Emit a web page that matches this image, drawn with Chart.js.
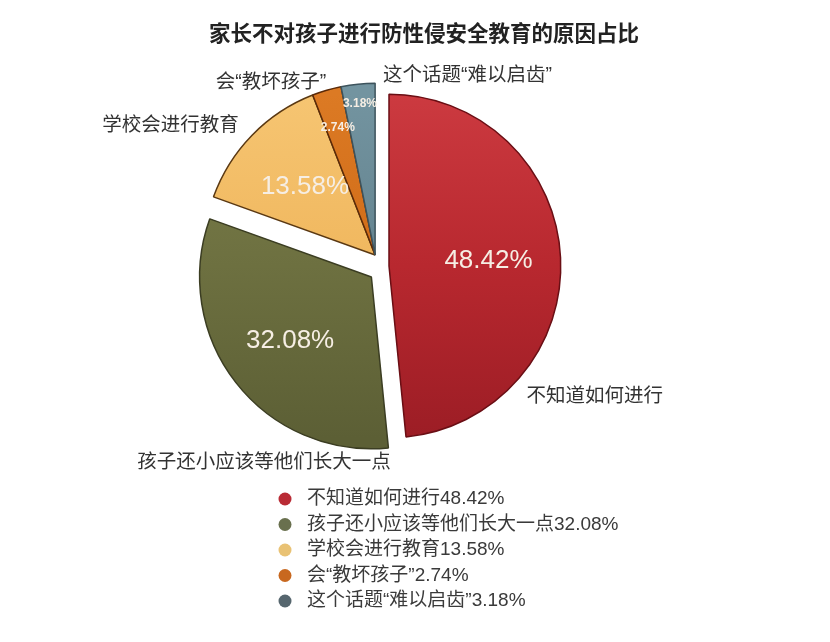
<!DOCTYPE html>
<html>
<head>
<meta charset="utf-8">
<script src="https://cdn.jsdelivr.net/npm/chart.js@4.4.1/dist/chart.umd.min.js"></script>
<style>
  html, body { margin: 0; padding: 0; background: #ffffff; }
  canvas { display: block; }
</style>
</head>
<body>
<canvas id="c" width="830" height="642" style="width:830px;height:642px"></canvas>
<script>
// ---- data ----
const chartTitle = '家长不对孩子进行防性侵安全教育的原因占比';
const categories = ['不知道如何进行', '孩子还小应该等他们长大一点', '学校会进行教育', '会“教坏孩子”', '这个话题“难以启齿”'];
const values = [48.42, 32.08, 13.58, 2.74, 3.18];
const valueLabels = ['48.42%', '32.08%', '13.58%', '2.74%', '3.18%'];

// ---- styles ----
const baseColors  = ['#b8282f', '#6d7040', '#f0b75e', '#d06c18', '#64838f'];
const lightColors = ['#cc3a40', '#7b7e4b', '#f6c572', '#dc7a24', '#7394a0'];
const darkColors  = ['#9c1d25', '#5c5f35', '#e6a84c', '#bb5d12', '#557481'];
const edgeColors  = ['#6a0e14', '#3b3d22', '#5a3812', '#5b2a08', '#3d535c'];
const legendColors = ['#b92b35', '#69704e', '#e9c274', '#c8681f', '#56666e'];
// explode: distance (px) and direction (deg clockwise from top; null = slice middle)
const explodeDist  = [9, 14, 12, 12, 12];
const explodeAngle = [90, 218, 336, 336, 336];
// inside value labels: radius factor, font
const valueRadius = [0.58, 0.60, 0.57, 0.77, 0.885];
const valueFonts  = ['26px "Liberation Sans", Arial, sans-serif', '26px "Liberation Sans", Arial, sans-serif',
                     '26px "Liberation Sans", Arial, sans-serif', 'bold 12px "Liberation Sans", Arial, sans-serif',
                     'bold 12px "Liberation Sans", Arial, sans-serif'];
// outside category labels: direction (deg clockwise from top) and radius factor from pie centre
const catAngle  = [121.4, 210.5, 303.9, 329.2, 24.7];
const catRadius = [1.465, 1.33, 1.47, 1.24, 1.22];
const FONT = '"Liberation Sans", "Noto Sans CJK SC", sans-serif';

const deg = Math.PI / 180;

const customPlugin = {
  id: 'custom',
  beforeDatasetsDraw(chart) {
    const ca = chart.chartArea;
    const cx = (ca.left + ca.right) / 2, cy = (ca.top + ca.bottom) / 2;
    chart.getDatasetMeta(0).data.forEach((el, i) => {
      const a = explodeAngle[i] == null ? ((el.startAngle + el.endAngle) / 2 + Math.PI / 2) : explodeAngle[i] * deg;
      el.x = cx + Math.sin(a) * explodeDist[i];
      el.y = cy - Math.cos(a) * explodeDist[i];
    });
  },
  afterDatasetsDraw(chart) {
    const ctx = chart.ctx;
    const ca = chart.chartArea;
    const cx = (ca.left + ca.right) / 2, cy = (ca.top + ca.bottom) / 2;
    const arcs = chart.getDatasetMeta(0).data;
    ctx.save();
    ctx.textAlign = 'center';
    ctx.textBaseline = 'middle';
    arcs.forEach((el, i) => {
      const mid = (el.startAngle + el.endAngle) / 2;
      const r = el.outerRadius * valueRadius[i];
      ctx.font = valueFonts[i];
      ctx.fillStyle = '#f6eee4';
      ctx.fillText(valueLabels[i], el.x + Math.cos(mid) * r, el.y + Math.sin(mid) * r);
    });
    const R = arcs[0].outerRadius;
    ctx.font = '19.5px ' + FONT;
    ctx.fillStyle = '#333333';
    categories.forEach((c, i) => {
      const a = catAngle[i] * deg;
      ctx.fillText(c, cx + Math.sin(a) * R * catRadius[i], cy - Math.cos(a) * R * catRadius[i]);
    });
    ctx.restore();
  },
  afterDraw(chart) {
    const ctx = chart.ctx;
    ctx.save();
    // title
    ctx.font = 'bold 21.5px "Noto Sans CJK SC", sans-serif';
    ctx.fillStyle = '#222222';
    ctx.textAlign = 'center';
    ctx.textBaseline = 'middle';
    ctx.fillText(chartTitle, 424, 33);
    // legend
    ctx.textAlign = 'left';
    ctx.font = '19px ' + FONT;
    categories.forEach((c, i) => {
      const y = 499 + i * 25.5;
      ctx.beginPath();
      ctx.arc(285, y, 6.5, 0, Math.PI * 2);
      ctx.fillStyle = legendColors[i];
      ctx.fill();
      ctx.fillStyle = '#3a3a3a';
      ctx.fillText(c + valueLabels[i], 307, y);
    });
    ctx.restore();
  }
};

new Chart(document.getElementById('c'), {
  type: 'pie',
  data: {
    labels: categories,
    datasets: [{
      data: values,
      backgroundColor: (context) => {
        const i = context.dataIndex;
        const chart = context.chart;
        const ca = chart.chartArea;
        if (!ca) return baseColors[i];
        const g = chart.ctx.createLinearGradient(0, ca.top, 0, ca.bottom);
        g.addColorStop(0, lightColors[i]);
        g.addColorStop(0.5, baseColors[i]);
        g.addColorStop(1, darkColors[i]);
        return g;
      },
      borderColor: edgeColors,
      borderWidth: 1.5
    }]
  },
  options: {
    responsive: false,
    animation: false,
    events: [],
    layout: { padding: { top: 93.5, bottom: 203.5, left: 0, right: 70 } },
    plugins: {
      legend: { display: false },
      tooltip: { enabled: false },
      title: { display: false }
    }
  },
  plugins: [customPlugin]
});
</script>
</body>
</html>
